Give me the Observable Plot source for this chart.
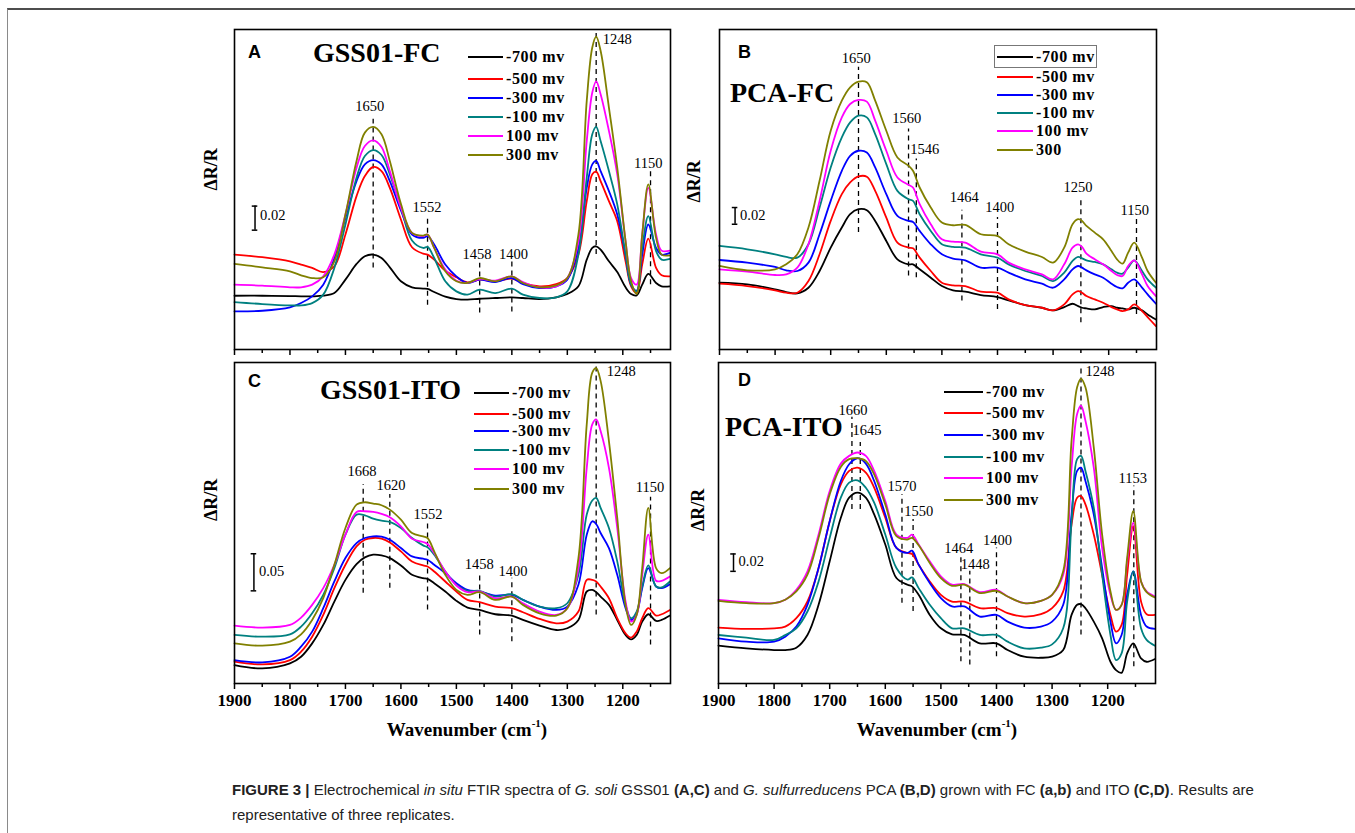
<!DOCTYPE html>
<html>
<head>
<meta charset="utf-8">
<script src="https://cdn.jsdelivr.net/npm/d3@7"></script>
<script src="https://cdn.jsdelivr.net/npm/@observablehq/plot@0.6"></script>
<style>
  html, body { margin: 0; padding: 0; background: #fff; }
  #fig { position: relative; width: 1355px; height: 833px; background: #fff; overflow: hidden; }
</style>
</head>
<body>
<div id="fig"></div>
<script>
// ---------------- DATA ----------------
const wn = [1900,1850,1800,1780,1760,1740,1720,1700,1680,1665,1650,1635,1620,1600,1580,1560,1552,1540,1520,1500,1480,1458,1430,1400,1380,1350,1320,1300,1280,1265,1255,1248,1240,1225,1210,1195,1185,1175,1165,1154,1140,1130,1115];

const seriesNames = ["-700 mv","-500 mv","-300 mv","-100 mv","100 mv","300 mv"];
const seriesColors = ["#000000","#ff0000","#0000ff","#008080","#ff00ff","#808000"];
const legendLabelsB = ["-700 mv","-500 mv","-300 mv","-100 mv","100 mv","300"];
const majorTicks = [1900,1800,1700,1600,1500,1400,1300,1200];
const minorTicks = [1850,1750,1650,1550,1450,1350,1250,1150];

// Panel A : GSS01-FC
const A_m700 = [0.0447,0.0447,0.0444,0.0442,0.0442,0.0447,0.0469,0.0581,0.0711,0.0775,0.0789,0.0761,0.0683,0.0567,0.0517,0.0506,0.0503,0.0478,0.0439,0.0419,0.0414,0.0422,0.0428,0.0433,0.0428,0.0419,0.0433,0.0461,0.0525,0.0747,0.0844,0.0858,0.0831,0.0733,0.0644,0.0517,0.0461,0.0450,0.0539,0.0628,0.0553,0.0525,0.0525];
const A_m500 = [0.0789,0.0767,0.0733,0.0706,0.0678,0.0644,0.0692,0.0956,0.1275,0.1442,0.1517,0.1483,0.1344,0.1081,0.0850,0.0797,0.0789,0.0747,0.0656,0.0600,0.0558,0.0581,0.0567,0.0589,0.0553,0.0525,0.0544,0.0594,0.0789,0.1233,0.1456,0.1478,0.1400,0.1233,0.1067,0.0733,0.0525,0.0469,0.0706,0.0922,0.0678,0.0617,0.0608];
const A_m300 = [0.0317,0.0322,0.0350,0.0386,0.0442,0.0539,0.0761,0.1094,0.1400,0.1539,0.1575,0.1539,0.1400,0.1156,0.0956,0.0928,0.0942,0.0872,0.0706,0.0608,0.0553,0.0581,0.0561,0.0594,0.0544,0.0511,0.0525,0.0581,0.0844,0.1344,0.1539,0.1567,0.1483,0.1317,0.1122,0.0789,0.0539,0.0489,0.0789,0.1039,0.0844,0.0789,0.0803];
const A_m100 = [0.0394,0.0378,0.0367,0.0367,0.0386,0.0456,0.0678,0.1039,0.1428,0.1608,0.1658,0.1617,0.1456,0.1178,0.0906,0.0844,0.0853,0.0761,0.0567,0.0483,0.0456,0.0497,0.0469,0.0506,0.0456,0.0428,0.0433,0.0483,0.0789,0.1428,0.1789,0.1850,0.1733,0.1483,0.1206,0.0789,0.0539,0.0483,0.0844,0.1108,0.0817,0.0747,0.0753];
const A_p100 = [0.0539,0.0531,0.0517,0.0517,0.0539,0.0608,0.0789,0.1122,0.1511,0.1692,0.1739,0.1683,0.1483,0.1178,0.0969,0.0942,0.0956,0.0844,0.0664,0.0572,0.0553,0.0586,0.0572,0.0608,0.0561,0.0517,0.0525,0.0594,0.0900,0.1733,0.2136,0.2228,0.2122,0.1817,0.1456,0.0900,0.0594,0.0539,0.0956,0.1344,0.0956,0.0822,0.0822];
const A_p300 = [0.0711,0.0683,0.0650,0.0617,0.0594,0.0600,0.0733,0.1122,0.1567,0.1803,0.1850,0.1789,0.1567,0.1211,0.0969,0.0947,0.0956,0.0844,0.0650,0.0567,0.0553,0.0594,0.0567,0.0608,0.0553,0.0517,0.0533,0.0594,0.0956,0.2067,0.2511,0.2600,0.2483,0.2011,0.1511,0.0900,0.0567,0.0461,0.0956,0.1372,0.0928,0.0789,0.0783];

// Panel B : PCA-FC
const B_m700 = [0.0800,0.0780,0.0720,0.0688,0.0672,0.0740,0.0940,0.1220,0.1460,0.1620,0.1680,0.1668,0.1540,0.1300,0.1080,0.1020,0.1020,0.0960,0.0860,0.0760,0.0708,0.0692,0.0652,0.0628,0.0588,0.0532,0.0500,0.0468,0.0508,0.0548,0.0520,0.0500,0.0492,0.0480,0.0508,0.0520,0.0500,0.0492,0.0480,0.0500,0.0468,0.0420,0.0360];
const B_m500 = [0.0788,0.0760,0.0708,0.0680,0.0680,0.0820,0.1140,0.1540,0.1860,0.2000,0.2072,0.2068,0.1900,0.1580,0.1280,0.1220,0.1212,0.1100,0.0940,0.0800,0.0768,0.0760,0.0692,0.0680,0.0600,0.0532,0.0500,0.0468,0.0540,0.0660,0.0700,0.0680,0.0640,0.0600,0.0560,0.0508,0.0480,0.0460,0.0480,0.0540,0.0460,0.0388,0.0280];
const B_m300 = [0.1072,0.1040,0.0988,0.0948,0.0940,0.1040,0.1380,0.1780,0.2140,0.2320,0.2380,0.2360,0.2180,0.1860,0.1600,0.1540,0.1528,0.1420,0.1260,0.1140,0.1088,0.1068,0.0980,0.0980,0.0920,0.0840,0.0788,0.0740,0.0840,0.0960,0.1000,0.0980,0.0948,0.0900,0.0860,0.0788,0.0748,0.0732,0.0800,0.0840,0.0740,0.0660,0.0548];
const B_m100 = [0.1240,0.1200,0.1140,0.1108,0.1100,0.1260,0.1700,0.2180,0.2540,0.2720,0.2800,0.2780,0.2580,0.2220,0.1900,0.1800,0.1780,0.1620,0.1420,0.1260,0.1228,0.1220,0.1140,0.1100,0.1020,0.0940,0.0880,0.0820,0.0920,0.1060,0.1108,0.1092,0.1068,0.1048,0.1020,0.0960,0.0920,0.0908,0.0980,0.1068,0.0940,0.0840,0.0740];
const B_p100 = [0.0960,0.0932,0.0892,0.0900,0.0980,0.1260,0.1780,0.2380,0.2780,0.2940,0.2988,0.2968,0.2740,0.2380,0.2060,0.1972,0.1940,0.1740,0.1500,0.1320,0.1292,0.1280,0.1172,0.1140,0.1040,0.0960,0.0900,0.0840,0.1020,0.1220,0.1260,0.1228,0.1148,0.1080,0.1020,0.0940,0.0892,0.0880,0.1000,0.1068,0.0900,0.0760,0.0640];
const B_p300 = [0.1000,0.0948,0.0960,0.1020,0.1140,0.1460,0.2020,0.2620,0.2980,0.3140,0.3208,0.3200,0.2980,0.2620,0.2300,0.2200,0.2140,0.1940,0.1700,0.1520,0.1488,0.1492,0.1380,0.1360,0.1260,0.1172,0.1108,0.1040,0.1220,0.1500,0.1560,0.1540,0.1480,0.1400,0.1320,0.1180,0.1080,0.1028,0.1160,0.1280,0.1100,0.0940,0.0800];

// Panel C : GSS01-ITO
const C_m700 = [0.0248,0.0203,0.0270,0.0360,0.0540,0.0788,0.1103,0.1395,0.1607,0.1697,0.1733,0.1724,0.1688,0.1589,0.1463,0.1418,0.1409,0.1350,0.1238,0.1112,0.1022,0.0990,0.0932,0.0914,0.0855,0.0779,0.0720,0.0743,0.0855,0.1238,0.1260,0.1229,0.1170,0.1058,0.0855,0.0653,0.0594,0.0653,0.0833,0.0932,0.0842,0.0855,0.0914];
const C_m500 = [0.0293,0.0257,0.0315,0.0428,0.0630,0.0923,0.1283,0.1598,0.1845,0.1935,0.1958,0.1949,0.1899,0.1778,0.1643,0.1589,0.1575,0.1508,0.1373,0.1238,0.1125,0.1094,0.1035,0.1013,0.0959,0.0869,0.0810,0.0833,0.0968,0.1395,0.1395,0.1373,0.1305,0.1148,0.0878,0.0675,0.0617,0.0698,0.0878,0.1013,0.0914,0.0932,0.0990];
const C_m300 = [0.0315,0.0284,0.0360,0.0495,0.0698,0.1013,0.1373,0.1688,0.1890,0.1958,0.1980,0.1976,0.1935,0.1823,0.1710,0.1679,0.1665,0.1598,0.1485,0.1350,0.1260,0.1238,0.1184,0.1193,0.1125,0.1035,0.0990,0.1035,0.1328,0.2003,0.2183,0.2147,0.2025,0.1823,0.1463,0.1013,0.0855,0.0945,0.1283,0.1553,0.1305,0.1283,0.1337];
const C_m100 = [0.0653,0.0630,0.0662,0.0765,0.0945,0.1193,0.1553,0.2003,0.2273,0.2264,0.2219,0.2192,0.2174,0.2093,0.1958,0.1859,0.1832,0.1733,0.1508,0.1328,0.1247,0.1247,0.1170,0.1202,0.1125,0.1035,0.1013,0.1080,0.1463,0.2273,0.2462,0.2498,0.2363,0.2093,0.1643,0.1058,0.0878,0.0968,0.1305,0.1589,0.1305,0.1292,0.1373];
const C_p100 = [0.0779,0.0752,0.0788,0.0887,0.1058,0.1283,0.1598,0.2003,0.2309,0.2318,0.2309,0.2282,0.2237,0.2115,0.1949,0.1904,0.1877,0.1755,0.1508,0.1319,0.1229,0.1238,0.1148,0.1170,0.1080,0.0968,0.0923,0.1013,0.1553,0.2903,0.3488,0.3555,0.3398,0.2903,0.2093,0.1103,0.0833,0.0923,0.1463,0.2003,0.1382,0.1382,0.1440];
const C_p300 = [0.0540,0.0509,0.0563,0.0662,0.0855,0.1148,0.1598,0.2093,0.2408,0.2439,0.2421,0.2399,0.2340,0.2205,0.2025,0.1980,0.1958,0.1778,0.1463,0.1260,0.1193,0.1229,0.1125,0.1170,0.1058,0.0945,0.0914,0.1013,0.1688,0.3488,0.4185,0.4244,0.4073,0.3263,0.2228,0.1058,0.0788,0.0923,0.1553,0.2363,0.1553,0.1485,0.1553];

// Panel D : PCA-ITO
const D_m700 = [0.0435,0.0404,0.0385,0.0385,0.0412,0.0558,0.0905,0.1405,0.1906,0.2137,0.2195,0.2137,0.1944,0.1598,0.1213,0.1136,0.1117,0.1020,0.0789,0.0635,0.0566,0.0558,0.0462,0.0462,0.0385,0.0308,0.0296,0.0308,0.0385,0.0789,0.0905,0.0912,0.0866,0.0712,0.0520,0.0250,0.0154,0.0123,0.0347,0.0462,0.0289,0.0250,0.0281];
const D_m500 = [0.0643,0.0628,0.0635,0.0655,0.0751,0.0943,0.1328,0.1867,0.2291,0.2445,0.2483,0.2426,0.2252,0.1906,0.1559,0.1502,0.1490,0.1367,0.1174,0.1020,0.0943,0.0943,0.0866,0.0866,0.0809,0.0770,0.0797,0.0866,0.1059,0.1829,0.2137,0.2156,0.2060,0.1713,0.1251,0.0789,0.0597,0.0674,0.1251,0.1810,0.0943,0.0797,0.0789];
const D_m300 = [0.0520,0.0481,0.0481,0.0539,0.0655,0.0905,0.1328,0.1867,0.2329,0.2522,0.2591,0.2529,0.2329,0.1944,0.1559,0.1502,0.1528,0.1367,0.1155,0.0982,0.0886,0.0886,0.0770,0.0789,0.0712,0.0643,0.0655,0.0712,0.0905,0.1944,0.2445,0.2483,0.2329,0.1944,0.1328,0.0712,0.0462,0.0558,0.1020,0.1290,0.0789,0.0655,0.0628];
const D_m100 = [0.0558,0.0527,0.0501,0.0558,0.0635,0.0828,0.1174,0.1675,0.2137,0.2310,0.2337,0.2252,0.2079,0.1713,0.1328,0.1194,0.1220,0.1097,0.0905,0.0751,0.0635,0.0635,0.0558,0.0558,0.0481,0.0404,0.0412,0.0450,0.0635,0.1867,0.2580,0.2618,0.2445,0.2021,0.1251,0.0558,0.0270,0.0347,0.0943,0.1290,0.0635,0.0501,0.0435];
const D_p100 = [0.0963,0.0936,0.0924,0.0963,0.1078,0.1290,0.1713,0.2214,0.2529,0.2618,0.2657,0.2618,0.2445,0.2098,0.1713,0.1675,0.1713,0.1598,0.1405,0.1232,0.1136,0.1143,0.1051,0.1078,0.1001,0.0924,0.0951,0.1020,0.1251,0.2483,0.3099,0.3196,0.3022,0.2483,0.1559,0.1020,0.0847,0.0905,0.1405,0.1848,0.1174,0.1059,0.1001];
const D_p300 = [0.0951,0.0924,0.0924,0.0963,0.1059,0.1251,0.1675,0.2175,0.2491,0.2580,0.2591,0.2560,0.2406,0.2060,0.1694,0.1656,0.1675,0.1590,0.1386,0.1213,0.1124,0.1136,0.1040,0.1066,0.1001,0.0924,0.0951,0.1020,0.1290,0.2791,0.3407,0.3504,0.3407,0.2714,0.1713,0.1059,0.0847,0.0905,0.1444,0.1983,0.1174,0.1051,0.0989];

// Peak markers: dashed line at wn from y1 to y2, label at (lx, ly)
const peaksA = [
  {wn:1650, lx:1656, ly:0.2025, y1:0.0678, y2:0.1914},
  {wn:1552, lx:1553, ly:0.1178, y1:0.0367, y2:0.1100},
  {wn:1458, lx:1463, ly:0.0789, y1:0.0303, y2:0.0717},
  {wn:1400, lx:1397, ly:0.0794, y1:0.0311, y2:0.0728},
  {wn:1248, lx:1236, ly:0.2580, y1:0.0789, y2:0.2636, right:true},
  {wn:1150, lx:1154, ly:0.1547, y1:0.0539, y2:0.1478}
];
const peaksB = [
  {wn:1650, lx:1654, ly:0.3492, y1:0.1400, y2:0.3380},
  {wn:1560, lx:1563, ly:0.2772, y1:0.0880, y2:0.2640},
  {wn:1546, lx:1531, ly:0.2400, y1:0.0860, y2:0.2280},
  {wn:1464, lx:1460, ly:0.1820, y1:0.0580, y2:0.1668},
  {wn:1400, lx:1396, ly:0.1708, y1:0.0480, y2:0.1580},
  {wn:1250, lx:1255, ly:0.1940, y1:0.0320, y2:0.1788},
  {wn:1150, lx:1153, ly:0.1668, y1:0.0420, y2:0.1572}
];
const peaksC = [
  {wn:1668, lx:1670, ly:0.2858, y1:0.1215, y2:0.2678},
  {wn:1620, lx:1618, ly:0.2669, y1:0.1283, y2:0.2543},
  {wn:1552, lx:1551, ly:0.2282, y1:0.0990, y2:0.2174},
  {wn:1458, lx:1459, ly:0.1598, y1:0.0653, y2:0.1485},
  {wn:1400, lx:1398, ly:0.1508, y1:0.0563, y2:0.1418},
  {wn:1248, lx:1229, ly:0.4199, y1:0.0923, y2:0.4275, right:true},
  {wn:1150, lx:1151, ly:0.2633, y1:0.0518, y2:0.2507}
];
const peaksD = [
  {wn:1660, lx:1658, ly:0.3145, y1:0.2002, y2:0.3061},
  {wn:1645, lx:1633, ly:0.2914, y1:0.2002, y2:0.2772},
  {wn:1570, lx:1570, ly:0.2272, y1:0.0924, y2:0.2175},
  {wn:1550, lx:1540, ly:0.1983, y1:0.0828, y2:0.1887},
  {wn:1464, lx:1468, ly:0.1559, y1:0.0250, y2:0.1463},
  {wn:1448, lx:1438, ly:0.1374, y1:0.0212, y2:0.1290},
  {wn:1400, lx:1398, ly:0.1648, y1:0.0308, y2:0.1559},
  {wn:1248, lx:1240, ly:0.3592, y1:0.0558, y2:0.3658, right:true},
  {wn:1153, lx:1155, ly:0.2356, y1:0.0193, y2:0.2272}
];

// Scale bars (ΔR/R)
const barA = {wn:1863, lo:0.0992, hi:0.1192, ly:0.1114, label:"0.02"};
const barB = {wn:1872, lo:0.1500, hi:0.1700, ly:0.1608, label:"0.02"};
const barC = {wn:1865, lo:0.1247, hi:0.1746, ly:0.1508, label:"0.05"};
const barD = {wn:1873, lo:0.1290, hi:0.1490, ly:0.1405, label:"0.02"};

// ---------------- DRAWING ----------------
const fig = document.getElementById("fig");
const SERIF = "'Liberation Serif', 'Times New Roman', serif";

function el(tag, css, html) {
  const e = document.createElement(tag);
  e.style.cssText = css;
  if (html !== undefined) e.innerHTML = html;
  return e;
}

// page frame (top + left rule)
fig.append(el("div", "position:absolute;left:7px;top:8px;right:-5px;bottom:-5px;border-top:2px solid #4d4d4d;border-left:1px solid #8a8a8a;"));

function makePanel(cfg) {
  const rows = [];
  cfg.series.forEach((vals, i) => vals.forEach((v, j) => rows.push({wn: wn[j], v, s: seriesNames[i]})));
  const mid = cfg.peaks.filter(p => !p.right);
  const right = cfg.peaks.filter(p => p.right);
  const bar = cfg.bar;
  const plot = Plot.plot({
    width: cfg.width, height: cfg.height,
    marginLeft: 50, marginRight: 6, marginTop: 10, marginBottom: cfg.marginBottom,
    x: {domain: [1900, 1114], label: null},
    y: {domain: [0, cfg.yMax], axis: null},
    color: {domain: seriesNames, range: seriesColors},
    style: {background: "none", overflow: "visible", fontFamily: SERIF, fontSize: "17px", fontWeight: "bold", color: "#000"},
    marks: [
      Plot.ruleX(cfg.peaks, {x: "wn", y1: "y1", y2: "y2", stroke: "#000", strokeWidth: 1.3, strokeDasharray: "5,4"}),
      Plot.text(mid, {x: "lx", y: "ly", text: d => String(d.wn), fontSize: 14.5, fontWeight: "normal", fill: "#000"}),
      Plot.text(right, {x: "lx", y: "ly", text: d => String(d.wn), textAnchor: "start", fontSize: 14.5, fontWeight: "normal", fill: "#000"}),
      Plot.line(rows, {x: "wn", y: "v", z: "s", stroke: "s", strokeWidth: 1.8, curve: "catmull-rom"}),
      Plot.ruleX([bar], {x: "wn", y1: "lo", y2: "hi", stroke: "#000", strokeWidth: 1.5}),
      Plot.ruleY([bar], {y: "lo", x1: d => d.wn + 5, x2: d => d.wn - 5, stroke: "#000", strokeWidth: 1.5}),
      Plot.ruleY([bar], {y: "hi", x1: d => d.wn + 5, x2: d => d.wn - 5, stroke: "#000", strokeWidth: 1.5}),
      Plot.text([bar], {x: "wn", y: "ly", text: "label", textAnchor: "start", dx: 5, fontSize: 14.5, fontWeight: "normal", fill: "#000"}),
      Plot.frame({stroke: "#000", strokeWidth: 1.6}),
      Plot.axisX({ticks: majorTicks, tickSize: 6, tickPadding: 4, strokeWidth: 1.5,
                  tickFormat: cfg.tickLabels ? (d => String(d)) : (() => ""), fontSize: 17, fontWeight: "bold", fill: "#000"}),
      Plot.axisX({ticks: minorTicks, tickSize: 4, strokeWidth: 1.5, tickFormat: () => ""}),
      Plot.text(["ΔR/R"], {frameAnchor: "left", dx: cfg.ylabDx, dy: cfg.ylabDy, rotate: -90, fontSize: 18, fontWeight: "bold", fill: "#000"})
    ]
  });
  const wrap = el("div", `position:absolute;left:${cfg.left}px;top:${cfg.top}px;`);
  wrap.append(plot);
  fig.append(wrap);
}

makePanel({series: [A_m700, A_m500, A_m300, A_m100, A_p100, A_p300], peaks: peaksA, bar: barA, yMax: 0.266,
  left: 184, top: 19, width: 492, height: 342, marginBottom: 12, tickLabels: false, ylabDx: -23, ylabDy: 1});
makePanel({series: [B_m700, B_m500, B_m300, B_m100, B_p100, B_p300], peaks: peaksB, bar: barB, yMax: 0.3832,
  left: 669, top: 19, width: 493, height: 342, marginBottom: 12, tickLabels: false, ylabDx: -25, ylabDy: 13});
makePanel({series: [C_m700, C_m500, C_m300, C_m100, C_p100, C_p300], peaks: peaksC, bar: barC, yMax: 0.432,
  left: 184, top: 352, width: 492, height: 366, marginBottom: 35, tickLabels: true, ylabDx: -23, ylabDy: -2});
makePanel({series: [D_m700, D_m500, D_m300, D_m100, D_p100, D_p300], peaks: peaksD, bar: barD, yMax: 0.3692,
  left: 668, top: 352, width: 493, height: 366, marginBottom: 35, tickLabels: true, ylabDx: -20, ylabDy: 8});

// Panel letters and titles
[["A", 248, 52], ["B", 738, 52], ["C", 248, 381], ["D", 738, 380]].forEach(([t, x, y]) =>
  fig.append(el("div", `position:absolute;left:${x}px;top:${y - 11}px;font:bold 18px 'Liberation Sans',Arial,sans-serif;line-height:22px;color:#000;`, t)));
[["GSS01-FC", 313, 53], ["PCA-FC", 730, 93], ["GSS01-ITO", 320, 390], ["PCA-ITO", 725, 427]].forEach(([t, x, y]) =>
  fig.append(el("div", `position:absolute;left:${x}px;top:${y - 17}px;font:bold 28px ${SERIF};line-height:34px;color:#000;white-space:nowrap;`, t)));

// Legends
function addLegend(lineLeft, lineW, textLeft, rowsY, labels, boxFirst) {
  labels.forEach((lab, i) => {
    fig.append(el("div", `position:absolute;left:${lineLeft}px;top:${rowsY[i] - 1}px;width:${lineW}px;height:0;border-top:2.2px solid ${seriesColors[i]};`));
    fig.append(el("div", `position:absolute;left:${textLeft}px;top:${rowsY[i] - 10}px;font:bold 16px ${SERIF};line-height:20px;letter-spacing:0.6px;color:#000;white-space:nowrap;`, lab));
  });
  if (boxFirst) {
    fig.append(el("div", `position:absolute;left:${lineLeft - 3}px;top:${rowsY[0] - 12}px;width:${textLeft - lineLeft + 62}px;height:21px;border:1.5px solid #777;`));
  }
}
addLegend(468, 35, 506, [57, 79, 98, 117, 136, 155], seriesNames, false);
addLegend(997, 36, 1036, [57, 77, 95, 113, 131, 150], legendLabelsB, true);
addLegend(474, 35, 512, [393, 414, 431, 450, 469, 489], seriesNames, false);
addLegend(944, 39, 986, [392, 413, 435, 457, 478, 500], seriesNames, false);

// X axis titles
[467, 937].forEach(cx =>
  fig.append(el("div", `position:absolute;left:${cx - 120}px;width:240px;top:717px;font:bold 19px ${SERIF};line-height:26px;text-align:center;color:#000;white-space:nowrap;`,
    "Wavenumber (cm<sup style=\"font-size:11px;vertical-align:9px;line-height:0\">-1</sup>)")));

// Caption
fig.append(el("div", "position:absolute;left:232px;top:777px;font:15px 'Liberation Sans',Arial,sans-serif;line-height:25px;color:#222;white-space:nowrap;",
  "<b>FIGURE 3 |</b> Electrochemical <i>in situ</i> FTIR spectra of <i>G. soli</i> GSS01 <b>(A,C)</b> and <i>G. sulfurreducens</i> PCA <b>(B,D)</b> grown with FC <b>(a,b)</b> and ITO <b>(C,D)</b>. Results are<br>representative of three replicates."));
</script>
</body>
</html>
